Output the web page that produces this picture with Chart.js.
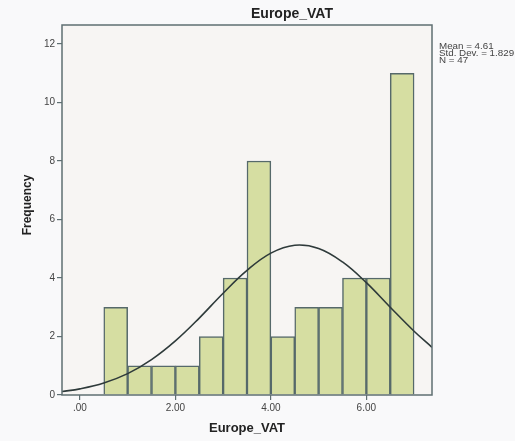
<!DOCTYPE html>
<html>
<head>
<meta charset="utf-8">
<script src="https://cdn.jsdelivr.net/npm/chart.js@4/dist/chart.umd.min.js"></script>
<style>
  html, body { margin: 0; padding: 0; background: #f9f9fa; }
  #wrap { width: 515px; height: 441px; position: relative; }
</style>
</head>
<body>
<div id="wrap"><canvas id="c" width="515" height="441"></canvas></div>
<script>
// ---- data ----
const chartTitle = "Europe_VAT";
const xAxisTitle = "Europe_VAT";
const yAxisTitle = "Frequency";
const binCenters = [0.75, 1.25, 1.75, 2.25, 2.75, 3.25, 3.75, 4.25, 4.75, 5.25, 5.75, 6.25, 6.75];
const frequencies = [3, 1, 1, 1, 2, 4, 8, 2, 3, 3, 4, 4, 11];
const curveX = [-0.375, 0, 0.5, 1, 1.5, 2, 2.5, 3, 3.5, 4, 4.5, 5, 5.5, 6, 6.5, 7, 7.375];
const curveY = [0.12, 0.21, 0.41, 0.73, 1.21, 1.85, 2.63, 3.48, 4.26, 4.85, 5.12, 5.01, 4.55, 3.84, 3.00, 2.18, 1.63];
const xTicks = [0, 2, 4, 6];
const xTickLabels = [".00", "2.00", "4.00", "6.00"];
const yTicks = [0, 2, 4, 6, 8, 10, 12];
const statsLines = ["Mean = 4.61", "Std. Dev. = 1.829", "N = 47"];

const barData = binCenters.map((x, i) => ({ x: x, y: frequencies[i] }));
const lineData = curveX.map((x, i) => ({ x: x, y: curveY[i] }));

const frameColor = '#5f6f72';

const decor = {
  id: 'decor',
  beforeDraw(chart) {
    const { ctx, chartArea: a } = chart;
    ctx.save();
    ctx.fillStyle = '#f7f5f3';
    ctx.fillRect(a.left, a.top, a.right - a.left, a.bottom - a.top);
    ctx.restore();
  },
  afterDraw(chart) {
    const { ctx, chartArea: a } = chart;
    ctx.save();
    ctx.strokeStyle = frameColor;
    ctx.lineWidth = 1.5;
    ctx.strokeRect(a.left, a.top, a.right - a.left, a.bottom - a.top);
    ctx.fillStyle = '#222';
    ctx.textAlign = 'center';
    ctx.textBaseline = 'middle';
    ctx.font = 'bold 14px "Liberation Sans", Arial, sans-serif';
    ctx.fillText(chartTitle, 292, 14);
    ctx.font = 'bold 13px "Liberation Sans", Arial, sans-serif';
    ctx.fillText(xAxisTitle, 247, 428);
    ctx.save();
    ctx.translate(28, 205);
    ctx.rotate(-Math.PI / 2);
    ctx.font = 'bold 12px "Liberation Sans", Arial, sans-serif';
    ctx.fillText(yAxisTitle, 0, 0);
    ctx.restore();
    ctx.fillStyle = '#444';
    ctx.textAlign = 'left';
    ctx.font = '8.5px "Liberation Sans", Arial, sans-serif';
    statsLines.forEach((s, i) => {
      ctx.save();
      ctx.translate(439, 47 + i * 7);
      ctx.scale(1.15, 1);
      ctx.fillText(s, 0, 0);
      ctx.restore();
    });
    ctx.restore();
  }
};

new Chart(document.getElementById('c'), {
  data: {
    datasets: [
      {
        type: 'line',
        data: lineData,
        borderColor: '#2e3a3a',
        borderWidth: 1.6,
        pointRadius: 0,
        tension: 0.4,
        fill: false,
        order: 0
      },
      {
        type: 'bar',
        data: barData,
        backgroundColor: '#d6dea2',
        borderColor: '#56696a',
        borderWidth: 1.5,
        barPercentage: 1,
        categoryPercentage: 1,
        order: 1
      }
    ]
  },
  options: {
    responsive: false,
    animation: false,
    events: [],
    layout: { padding: { top: 25, right: 83, left: 0, bottom: 0 } },
    plugins: { legend: { display: false }, tooltip: { enabled: false }, title: { display: false } },
    scales: {
      x: {
        type: 'linear',
        min: -0.375,
        max: 7.375,
        offset: false,
        afterFit(s) { s.height = 46; },
        afterBuildTicks(s) { s.ticks = xTicks.map(v => ({ value: v })); },
        grid: { offset: false, drawOnChartArea: false, drawTicks: true, tickLength: 5, color: frameColor, lineWidth: 1.2 },
        border: { display: false },
        ticks: {
          color: '#444',
          padding: 2,
          font: { size: 10, family: '"Liberation Sans", Arial, sans-serif' },
          maxRotation: 0,
          callback: (v) => { const i = xTicks.indexOf(v); return i >= 0 ? xTickLabels[i] : ''; }
        }
      },
      y: {
        type: 'linear',
        min: 0,
        max: 12.65,
        afterFit(s) { s.width = 62; },
        afterBuildTicks(s) { s.ticks = yTicks.map(v => ({ value: v })); },
        grid: { drawOnChartArea: false, drawTicks: true, tickLength: 5, color: frameColor, lineWidth: 1.2 },
        border: { display: false },
        ticks: {
          color: '#444',
          padding: 2,
          font: { size: 10, family: '"Liberation Sans", Arial, sans-serif' }
        }
      }
    }
  },
  plugins: [decor]
});
</script>
</body>
</html>
